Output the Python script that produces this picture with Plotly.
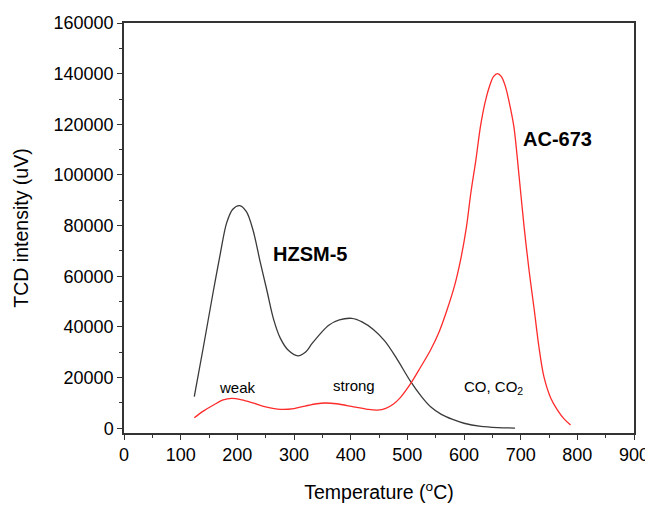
import plotly.graph_objects as go

# HZSM-5 (black)
hz_temp = [124, 140, 158, 170, 181, 192, 204, 216, 228, 240, 252, 264, 276, 290,
           307, 320, 332, 347, 362, 380, 402, 420, 440, 460, 480, 506, 525, 541,
           560, 580, 600, 630, 660, 690]
hz_tcd = [12500, 32000, 54600, 69000, 81000, 86500, 87900, 85500, 78000, 66000,
          54600, 43000, 35500, 30800, 28600, 30000, 33500, 37500, 40800, 42800,
          43400, 42000, 39000, 34500, 28000, 18400, 12500, 8500, 5500, 3500,
          2000, 800, 300, 100]

# AC-673 (red)
ac_temp = [124, 140, 158, 175, 190, 208, 229, 250, 276, 300, 320, 340, 355, 375,
           405, 430, 447, 462, 475, 488, 506, 523, 541, 556, 570, 583, 594, 604,
           612, 621, 629, 637, 645, 652, 659, 666, 673, 680, 688, 697, 706, 715,
           724, 732, 741, 753, 765, 777, 788]
ac_tcd = [4200, 6800, 9200, 11200, 11800, 11200, 9900, 8500, 7500, 7800, 8800,
          9700, 10000, 9700, 8500, 7500, 7200, 7900, 9500, 12200, 17700, 24000,
          30900, 38000, 46700, 56000, 66500, 79000, 92800, 106000, 119100, 128500,
          135000, 138800, 140000, 138800, 135000, 128500, 119100, 100000, 79600,
          62000, 46700, 32500, 20400, 12000, 7200, 3600, 1300]

x_ticks = [0, 100, 200, 300, 400, 500, 600, 700, 800, 900]
y_ticks = [0, 20000, 40000, 60000, 80000, 100000, 120000, 140000, 160000]

FONT = "Liberation Sans, Arial, sans-serif"

fig = go.Figure()
fig.add_trace(go.Scatter(x=hz_temp, y=hz_tcd, mode="lines",
                         line=dict(color="#3a3a3a", width=1.3, shape="spline", smoothing=0.9),
                         name="HZSM-5", showlegend=False))
fig.add_trace(go.Scatter(x=ac_temp, y=ac_tcd, mode="lines",
                         line=dict(color="#ff2a2a", width=1.3, shape="spline", smoothing=0.9),
                         name="AC-673", showlegend=False))

annots = [
    dict(x=329, y=69000, text="<b>HZSM-5</b>", size=20),
    dict(x=765, y=114300, text="<b>AC-673</b>", size=20),
    dict(x=201, y=16100, text="weak", size=15),
    dict(x=406, y=16800, text="strong", size=15),
    dict(x=652, y=16100, text="CO, CO<sub>2</sub>", size=15),
]
for a in annots:
    fig.add_annotation(x=a["x"], y=a["y"], text=a["text"], showarrow=False,
                       font=dict(family=FONT, size=a["size"], color="black"))

axis_common = dict(showline=True, linecolor="#333333", linewidth=1.5, mirror=True,
                   ticks="outside", ticklen=5, tickwidth=1.3, tickcolor="#333333",
                   showgrid=False, zeroline=False, automargin=False,
                   tickfont=dict(family=FONT, size=18, color="black"))

fig.update_xaxes(range=[0, 900], tickvals=x_ticks, ticktext=[str(v) for v in x_ticks],
                 minor=dict(ticks="outside", ticklen=3, dtick=50, tickcolor="#333333"),
                 title=dict(text="Temperature (<sup>o</sup>C)",
                            font=dict(family=FONT, size=19.5, color="black"), standoff=21),
                 **axis_common)
fig.update_yaxes(range=[-1850, 160000], tickvals=y_ticks, ticktext=[str(v) for v in y_ticks],
                 minor=dict(ticks="outside", ticklen=3, dtick=10000, tickcolor="#333333"),
                 title=dict(text="TCD intensity (uV)",
                            font=dict(family=FONT, size=19.5, color="black"), standoff=20),
                 **axis_common)

# the page body adds an 8px offset, so the figure is 8px smaller to fit the window
fig.update_layout(width=645, height=498, plot_bgcolor="white", paper_bgcolor="white",
                  margin=dict(l=116, r=19, t=15, b=73), showlegend=False)

fig.write_html("out.html")
